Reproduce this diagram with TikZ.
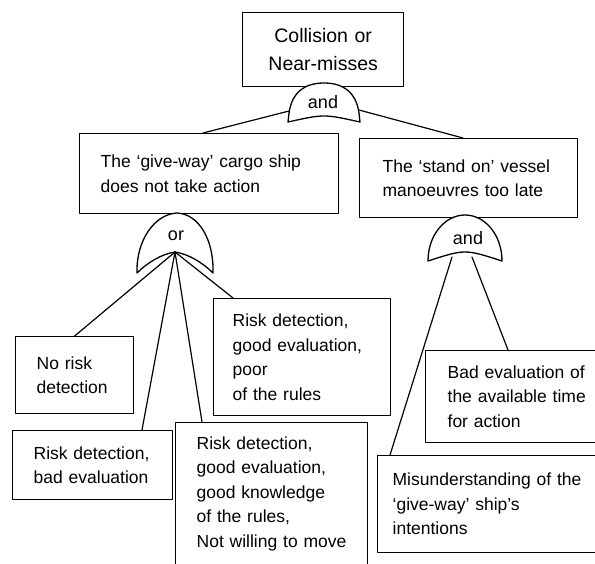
\documentclass[tikz,border=0pt]{standalone}
\usepackage{fontspec}
\setmainfont{Liberation Sans}

\begin{document}
\begin{tikzpicture}[x=1pt,y=-1pt,line join=round,line cap=round,
  box/.style={draw,line width=1.3pt,align=left,anchor=north west,inner ysep=0pt,font=\fontsize{17.5}{24.5}\selectfont},
  gate/.style={draw,line width=1.3pt,fill=white},
  link/.style={line width=1.2pt},
  gatetext/.style={font=\fontsize{18}{20}\selectfont}]
\useasboundingbox (0,0) rectangle (595,563);
\node[box,align=center,inner xsep=8pt,text width=145pt,minimum height=74pt,font=\fontsize{19.5}{28}\selectfont] (top) at (242,12) {Collision or\\Near-misses};
\node[box,inner xsep=21pt,text width=217pt,minimum height=80pt] (give) at (79,133) {The ‘give-way’ cargo ship\\does not take action};
\node[box,inner xsep=23pt,text width=172pt,minimum height=79pt] (stand) at (359,138) {The ‘stand on’ vessel\\manoeuvres too late};
\node[box,inner xsep=21pt,text width=76pt,minimum height=77pt] (norisk) at (15,336) {No risk\\detection};
\node[box,inner xsep=21pt,text width=118pt,minimum height=69pt] (bad) at (12,430) {Risk detection,\\bad evaluation};
\node[box,inner xsep=19pt,text width=139pt,minimum height=117pt] (poor) at (213,298) {Risk detection,\\good evaluation,\\poor\\of the rules};
\node[box,inner xsep=21pt,text width=150pt,minimum height=142pt] (big) at (175,422) {Risk detection,\\good evaluation,\\good knowledge\\of the rules,\\Not willing to move};
\node[box,inner xsep=22pt,text width=141pt,minimum height=92pt] (badtime) at (425,350) {Bad evaluation of\\the available time\\for action};
\node[box,inner xsep=15pt,text width=200pt,minimum height=97pt] (misund) at (377,455) {Misunderstanding of the\\‘give-way’ ship’s\\intentions};

\draw[gate] (288,122) -- (289,113) .. controls (292,92) and (305,83) .. (324,83)
  .. controls (343,83) and (356,92) .. (359,113) -- (360,122)
  .. controls (324,114) .. (288,122) -- cycle;
\draw[gate] (137,273) .. controls (136,240) and (155,214) .. (177,213)
  .. controls (199,214) and (214,240) .. (213,273)
  .. controls (202,262) and (188,254) .. (175,252)
  .. controls (162,254) and (148,262) .. (137,273) -- cycle;
\draw[gate] (428,261) .. controls (428,235) and (445,215) .. (465,215)
  .. controls (485,215) and (502,235) .. (502,261)
  .. controls (465,249) .. (428,261) -- cycle;
\node[gatetext] (andtop) at (323,102) {and};
\node[gatetext] (orgate) at (176,236) {or};
\node[gatetext] (andright) at (468,238) {and};
\coordinate (andtopL) at (289,111);
\coordinate (andtopR) at (359,110);
\coordinate (orapex) at (175,252);
\coordinate (andrightL) at (452,257);
\coordinate (andrightR) at (472,257);

\draw[link] (andtopL) -- ([xshift=124pt]give.north west);
\draw[link] (andtopR) -- ([xshift=104pt]stand.north west);
\draw[link] (orapex) -- (norisk.north);
\draw[link] (orapex) -- ([xshift=130pt]bad.north west);
\draw[link] (orapex) -- ([xshift=27pt]big.north west);
\draw[link] (orapex) -- ([xshift=20pt]poor.north west);
\draw[link] (andrightL) -- ([xshift=13pt]misund.north west);
\draw[link] (andrightR) -- ([xshift=83pt]badtime.north west);
\end{tikzpicture}
\end{document}
